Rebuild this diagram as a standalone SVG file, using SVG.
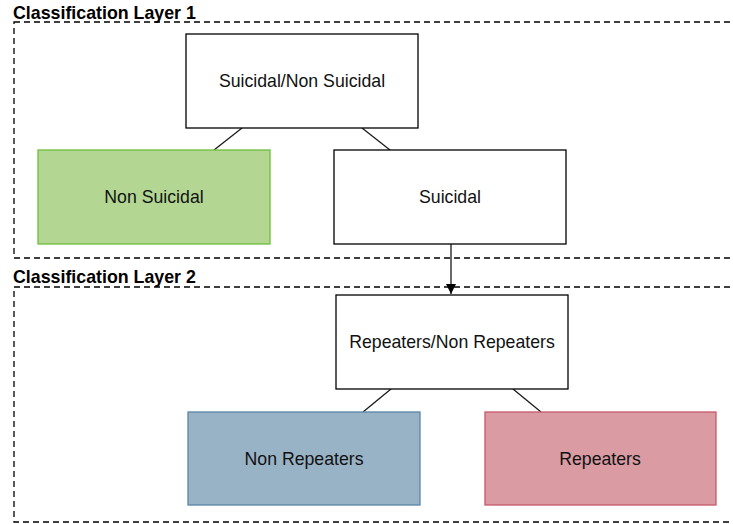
<svg xmlns="http://www.w3.org/2000/svg" width="733" height="524" viewBox="0 0 733 524">
<defs>
<style>
.layer{fill:none;stroke:#000;stroke-width:1.3;stroke-dasharray:6 4}
.title{font-family:"Liberation Sans",Arial,sans-serif;font-weight:bold;font-size:17.8px;fill:#000}
.box{stroke-width:1.3}
.lbl{font-family:"Liberation Sans",Arial,sans-serif;font-size:17.7px;fill:#111;text-anchor:middle;dominant-baseline:central}
.conn{stroke:#1a1a1a;stroke-width:1.3;fill:none}
</style>
<marker id="arr" viewBox="0 0 10 10" refX="10" refY="5" markerWidth="10" markerHeight="10" markerUnits="userSpaceOnUse" orient="auto">
<path d="M0,0 L10,5 L0,10 Z" fill="#000"/>
</marker>
</defs>
<rect width="733" height="524" fill="#fff"/>
<g id="layer1">
<rect class="layer" x="14" y="22" width="740" height="236"/>
<text class="title" x="13" y="18.5">Classification Layer 1</text>
</g>
<g id="layer2">
<rect class="layer" x="14" y="287" width="740" height="235"/>
<text class="title" x="13" y="282.5">Classification Layer 2</text>
</g>
<g id="connectors">
<line class="conn" x1="242" y1="128" x2="214" y2="150"/>
<line class="conn" x1="362" y1="128" x2="390" y2="150"/>
<line class="conn" x1="451" y1="244" x2="451" y2="294" marker-end="url(#arr)"/>
<line class="conn" x1="391" y1="389" x2="363" y2="412"/>
<line class="conn" x1="513" y1="389" x2="541" y2="412"/>
</g>
<g id="n_root">
<rect class="box" x="186" y="34" width="232" height="94" fill="#fff" stroke="#000"/>
<text class="lbl" x="302" y="81">Suicidal/Non Suicidal</text>
</g>
<g id="n_nonsuicidal">
<rect class="box" x="38" y="150" width="232" height="94" fill="#b3d793" stroke="#6cbf3a"/>
<text class="lbl" x="154" y="197">Non Suicidal</text>
</g>
<g id="n_suicidal">
<rect class="box" x="334" y="150" width="232" height="94" fill="#fff" stroke="#000"/>
<text class="lbl" x="450" y="197">Suicidal</text>
</g>
<g id="n_rep_root">
<rect class="box" x="336" y="295" width="232" height="94" fill="#fff" stroke="#000"/>
<text class="lbl" x="452" y="342">Repeaters/Non Repeaters</text>
</g>
<g id="n_nonrep">
<rect class="box" x="188" y="412" width="232" height="93" fill="#99b3c6" stroke="#5b86a9"/>
<text class="lbl" x="304" y="459">Non Repeaters</text>
</g>
<g id="n_rep">
<rect class="box" x="485" y="412" width="231" height="93" fill="#da9ba3" stroke="#c65868"/>
<text class="lbl" x="600" y="459">Repeaters</text>
</g>
</svg>
